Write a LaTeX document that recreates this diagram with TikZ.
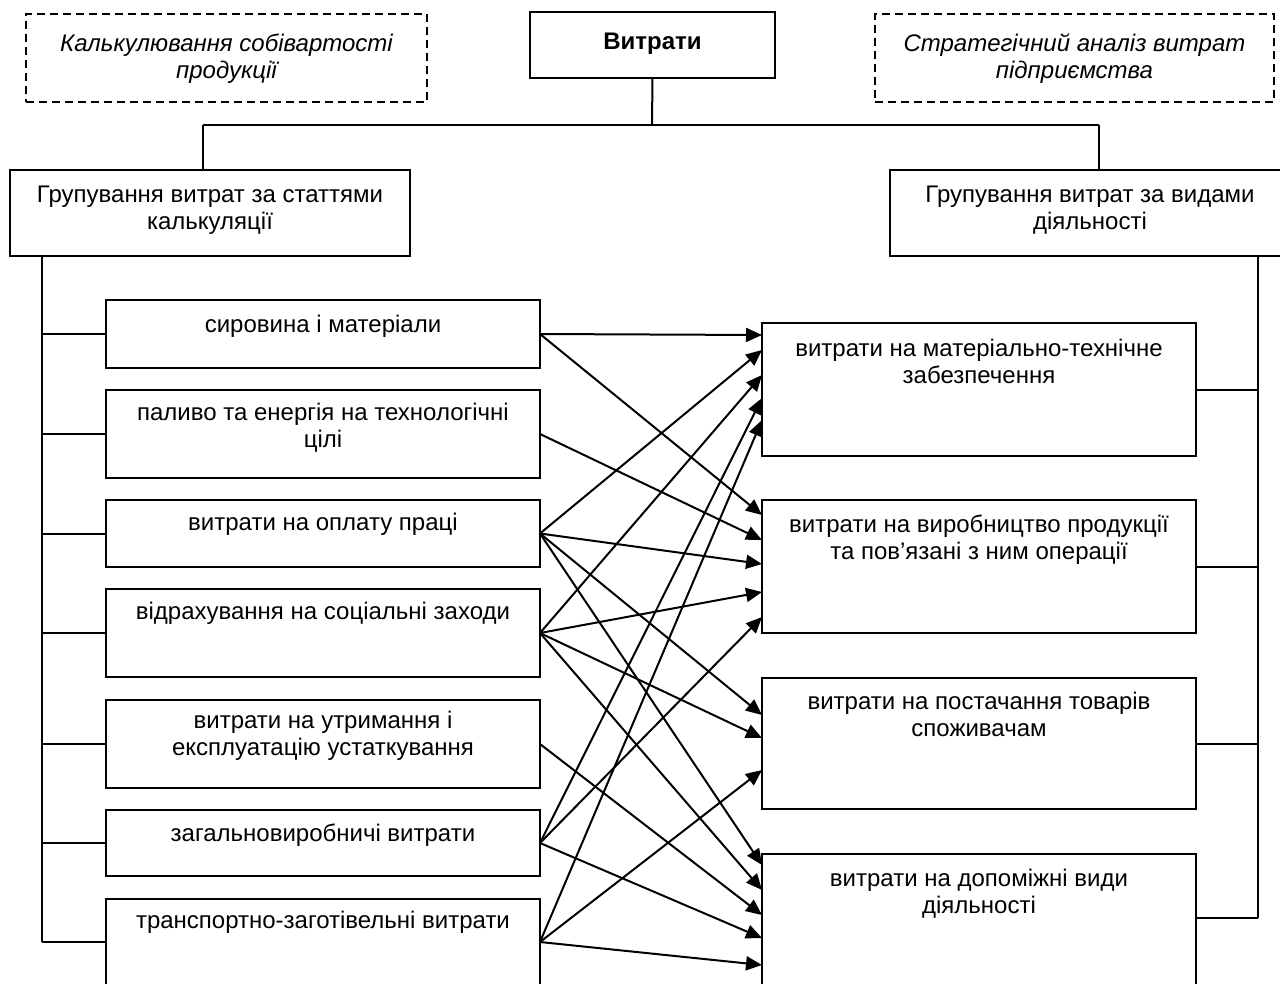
\documentclass[tikz,border=0pt]{standalone}
\usepackage{fontspec}
\setmainfont{Liberation Sans}
\usetikzlibrary{arrows.meta}
\newcommand{\bxt}[4]{\parbox[c][#2pt][t]{#1pt}{\fontsize{24}{27}\selectfont\centering\vspace*{#3pt}\strut #4\par}}
\begin{document}
\begin{tikzpicture}[x=1pt,y=-1pt,
  box/.style={draw, line width=2pt, inner sep=0pt, outer sep=0pt, anchor=north west},
  dbox/.style={box, line width=1.8pt, dash pattern=on 8pt off 5pt},
  ln/.style={line width=2pt},
  arr/.style={line width=2pt, -{Triangle[length=16pt,width=14pt]}}]
\useasboundingbox (0,0) rectangle (1280,983);
% top row
\node[dbox] (dL) at (26,14) {\bxt{401}{88}{19}{\itshape Калькулювання собівартості\\продукції}};
\node[box] (main) at (530,12) {\bxt{245}{66}{19}{\bfseries Витрати}};
\node[dbox] (dR) at (875,14) {\bxt{399}{88}{19}{\itshape Стратегічний аналіз витрат\\підприємства}};
% group boxes
\node[box] (GL) at (10,170) {\bxt{400}{86}{14}{Групування витрат за статтями\\калькуляції}};
\node[box] (GR) at (890,170) {\bxt{400}{86}{14}{Групування витрат за видами\\діяльності}};
% left items
\node[box] (L1) at (106,300) {\bxt{434}{68}{14}{сировина і матеріали}};
\node[box] (L2) at (106,390) {\bxt{434}{88}{12}{паливо та енергія на технологічні\\цілі}};
\node[box] (L3) at (106,500) {\bxt{434}{67}{12}{витрати на оплату праці}};
\node[box] (L4) at (106,589) {\bxt{434}{88}{12}{відрахування на соціальні заходи}};
\node[box] (L5) at (106,700) {\bxt{434}{88}{10}{витрати на утримання і\\експлуатацію устаткування}};
\node[box] (L6) at (106,810) {\bxt{434}{66}{13}{загальновиробничі витрати}};
\node[box] (L7) at (106,899) {\bxt{434}{92}{11}{транспортно-заготівельні витрати}};
% right items
\node[box] (R1) at (762,323) {\bxt{434}{133}{15}{витрати на матеріально-технічне\\забезпечення}};
\node[box] (R2) at (762,500) {\bxt{434}{133}{14}{витрати на виробництво продукції\\та пов’язані з ним операції}};
\node[box] (R3) at (762,678) {\bxt{434}{131}{13}{витрати на постачання товарів\\споживачам}};
\node[box] (R4) at (762,854) {\bxt{434}{140}{14}{витрати на допоміжні види\\діяльності}};
% tree connectors
\coordinate (hub) at (652,125);
\coordinate (hubL) at (203,125);
\coordinate (hubR) at (1099,125);
\draw[ln] (main.south) -- (hub);
\draw[ln] (hubL) -- (hubR);
\draw[ln] (hubL) -- (hubL |- GL.north);
\draw[ln] (hubR) -- (hubR |- GR.north);
% left spine
\coordinate (spL) at (42,256);
\coordinate (spLend) at (42,942);
\draw[ln] (spL) -- (spLend);
\foreach \n in {L1,L2,L3,L4,L5,L6} \draw[ln] (spL |- \n.west) -- (\n.west);
\draw[ln] (spLend) -- ([yshift=-43pt]L7.north west);
% right spine
\coordinate (spR) at (1258,256);
\coordinate (spRend) at (1258,918);
\draw[ln] (spR) -- (spRend);
\foreach \n in {R1,R2,R3} \draw[ln] (spR |- \n.east) -- (\n.east);
\draw[ln] (spRend) -- ([yshift=-64pt]R4.north east);
% arrows
\draw[arr] (L1.east) -- ([yshift=-12pt]R1.north west);
\draw[arr] (L1.east) -- ([yshift=-15pt]R2.north west);
\draw[arr] (L2.east) -- ([yshift=-40pt]R2.north west);
\draw[arr] (L3.east) -- ([yshift=-27pt]R1.north west);
\draw[arr] (L3.east) -- ([yshift=-64pt]R2.north west);
\draw[arr] (L3.east) -- ([yshift=-37pt]R3.north west);
\draw[arr] (L3.east) -- ([yshift=-11pt]R4.north west);
\draw[arr] (L4.east) -- ([yshift=-52pt]R1.north west);
\draw[arr] (L4.east) -- ([yshift=-92pt]R2.north west);
\draw[arr] (L4.east) -- ([yshift=-60pt]R3.north west);
\draw[arr] (L4.east) -- ([yshift=-36pt]R4.north west);
\draw[arr] (L5.east) -- ([yshift=-61pt]R4.north west);
\draw[arr] (L6.east) -- ([yshift=-75pt]R1.north west);
\draw[arr] (L6.east) -- ([yshift=-117pt]R2.north west);
\draw[arr] (L6.east) -- ([yshift=-84pt]R4.north west);
\draw[arr] ([yshift=-43pt]L7.north east) -- ([yshift=-97pt]R1.north west);
\draw[arr] ([yshift=-43pt]L7.north east) -- ([yshift=-92pt]R3.north west);
\draw[arr] ([yshift=-43pt]L7.north east) -- ([yshift=-111pt]R4.north west);
\end{tikzpicture}
\end{document}
